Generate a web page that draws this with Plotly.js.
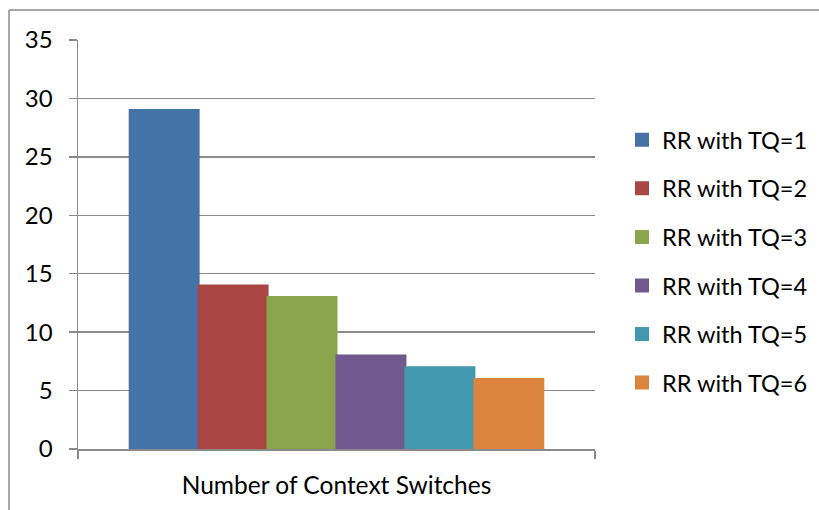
<!DOCTYPE html>
<html>
<head>
<meta charset="utf-8">
<script src="https://cdn.plot.ly/plotly-3.0.1.min.js"></script>
<style>
  html, body { margin: 0; padding: 0; background: #fff; }
  #chart { width: 819px; height: 510px; }
</style>
</head>
<body>
<div id="chart"></div>
<script>
// Round Robin scheduling: context switches for each time quantum
const category = "Number of Context Switches";
const seriesNames = ["RR with TQ=1", "RR with TQ=2", "RR with TQ=3", "RR with TQ=4", "RR with TQ=5", "RR with TQ=6"];
const switchCounts = [29, 14, 13, 8, 7, 6];
const seriesColors = ["#4572A7", "#AA4643", "#89A54E", "#71588F", "#4198AF", "#DB843D"];
const yTicks = [0, 5, 10, 15, 20, 25, 30, 35];

const W = 819, H = 510;
const M = { l: 78, r: 224, t: 40, b: 61 };
const plotW = W - M.l - M.r, plotH = H - M.t - M.b;
const px2x = px => (px - M.l) / plotW;
const px2y = py => (H - M.b - py) / plotH;

const FONT = "Lato, 'Open Sans', sans-serif";
const GRID = "#8a8a8a";

const traces = seriesNames.map((name, i) => ({
  type: "bar",
  name: name,
  x: [category],
  y: [switchCounts[i]],
  legendgroup: "g" + i,
  // same-colour outline enlarges the legend swatch
  marker: { color: seriesColors[i], line: { color: seriesColors[i], width: 2 } },
  hoverinfo: "name+y"
}));

const layout = {
  width: W,
  height: H,
  margin: M,
  paper_bgcolor: "#ffffff",
  plot_bgcolor: "#ffffff",
  font: { family: FONT, size: 23, color: "#000000" },
  barmode: "group",
  bargap: 0.2,
  bargroupgap: 0,
  showlegend: true,
  legend: {
    xref: "container",
    yref: "container",
    x: 622 / W,
    xanchor: "left",
    y: 1 - 118 / H,
    yanchor: "top",
    maxheight: 480,
    font: { family: FONT, size: 23.5, color: "#000000" },
    tracegroupgap: 15,
    itemwidth: 30,
    bgcolor: "rgba(0,0,0,0)"
  },
  xaxis: {
    type: "category",
    showgrid: false,
    showline: true,
    linecolor: GRID,
    linewidth: 1.5,
    ticks: "outside",
    tickson: "boundaries",
    ticklen: 8,
    tickcolor: GRID,
    tickwidth: 1.5,
    tickfont: { family: FONT, size: 24.5, color: "#000000" },
    ticklabelstandoff: 14,
    fixedrange: true
  },
  yaxis: {
    range: [0, 35],
    tickvals: yTicks,
    ticktext: yTicks.map(String),
    showgrid: true,
    gridcolor: GRID,
    gridwidth: 1.5,
    zeroline: false,
    showline: true,
    linecolor: GRID,
    linewidth: 1.5,
    ticks: "outside",
    ticklen: 8,
    tickcolor: GRID,
    tickwidth: 1.5,
    tickfont: { family: FONT, size: 24, color: "#000000" },
    ticklabelstandoff: 11,
    fixedrange: true
  },
  shapes: [
    // chart frame: top and left edges
    { type: "line", xref: "paper", yref: "paper", x0: px2x(9), x1: px2x(W + 5), y0: px2y(10), y1: px2y(10),
      line: { color: GRID, width: 1.5 } },
    { type: "line", xref: "paper", yref: "paper", x0: px2x(9), x1: px2x(9), y0: px2y(10), y1: px2y(H + 5),
      line: { color: GRID, width: 1.5 } }
  ]
};

Plotly.newPlot("chart", traces, layout, { displayModeBar: false, staticPlot: true });
</script>
</body>
</html>
